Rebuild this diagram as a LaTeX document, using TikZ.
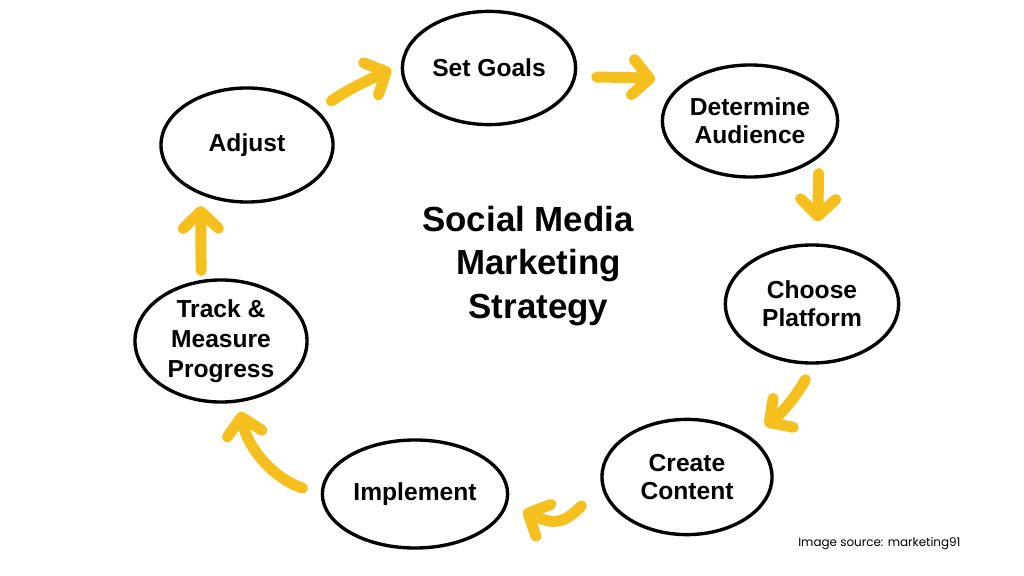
\documentclass[tikz,border=0pt]{standalone}
\usepackage{fontspec}
\setmainfont{Liberation Sans}
\newfontfamily\creditfont{Poppins}
\usetikzlibrary{shapes.geometric,arrows.meta}
\definecolor{flowyellow}{RGB}{245,192,30}

\begin{document}
\begin{tikzpicture}[x=0.025cm, y=-0.025cm,
  stage/.style={shape=ellipse, draw, line width=2.4pt, inner sep=0pt, align=center,
                font=\bfseries\fontsize{17.5}{20}\selectfont},
  flow/.style={draw=flowyellow, line width=7.8pt, line cap=round,
               -{Straight Barb[length=12pt, width=25pt, round]}},
  title/.style={align=center, font=\bfseries\fontsize{24.8}{31}\selectfont},
]
\fill[white] (0,0) rectangle (1024,576);
\useasboundingbox (0,0) rectangle (1024,576);

% stages of the cycle
\node[stage, minimum width=4.33cm, minimum height=2.83cm] (goals)     at (489,68)  {Set Goals};
\node[stage, minimum width=4.38cm, minimum height=2.8cm]  (audience)  at (750,121) {Determine\\Audience};
\node[stage, minimum width=4.33cm, minimum height=2.95cm] (platform)  at (812,304) {Choose\\Platform};
\node[stage, minimum width=4.25cm, minimum height=2.88cm] (content)   at (687,477) {Create\\Content};
\node[stage, minimum width=4.63cm, minimum height=2.7cm]  (implement) at (415,494) {Implement};
\node[stage, minimum width=4.3cm,  minimum height=3.05cm,
      font=\bfseries\fontsize{17.5}{21.5}\selectfont]     (track)     at (221,341) {Track \&\\Measure\\Progress};
\node[stage, minimum width=4.3cm,  minimum height=2.85cm] (adjust)    at (247,145) {Adjust};

\node[title] (strategy) at (528,266) {Social Media\\\hspace*{0.6em}Marketing\\\hspace*{0.6em}Strategy};

% yellow arrows
\draw[flow, shorten <=11.7pt, shorten >=7.5pt] (adjust.26)    to[out=35, in=205]  (goals.178);
\draw[flow, shorten <=14.6pt, shorten >=21pt]  (goals.-6)     to[out=0, in=175]   (audience.149);
\draw[flow, shorten <=11.3pt, shorten >=15.6pt] (audience.-28) -- (platform.85);
\draw[flow, shorten <=12.3pt, shorten >=13pt]  (platform.-88) to[out=240, in=35]  (content.33);
\draw[flow, shorten <=20pt, shorten >=12pt]    (content.186)  to[out=225, in=-25, looseness=1.4] (implement.-6);
\draw[flow, shorten <=13.5pt, shorten >=6.7pt] (implement.180) to[out=162, in=-79] (track.-74);
\draw[flow, shorten <=6.7pt, shorten >=8pt]    (track.108)    -- (adjust.227);

\node[font=\creditfont\fontsize{8.5}{10}\selectfont, anchor=west, inner sep=0pt] (credit) at (798,544) {Image source: marketing91};
\end{tikzpicture}
\end{document}
